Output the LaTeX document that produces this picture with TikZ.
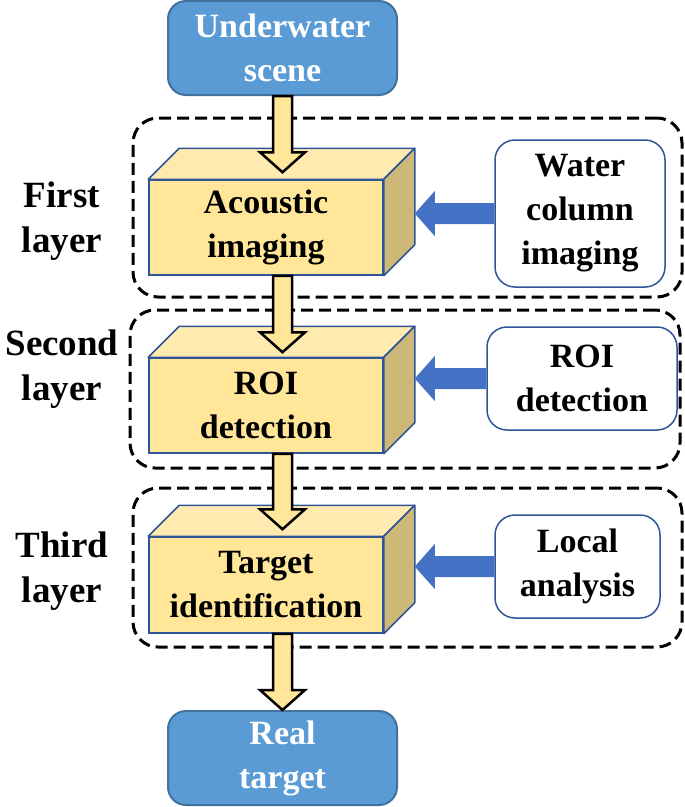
\documentclass[tikz,border=0pt]{standalone}
\usepackage{fontspec}
\setmainfont{Liberation Serif}
\usepackage{tikz}
\usetikzlibrary{positioning,calc,shapes}
\definecolor{flowBlue}{HTML}{5B9BD5}
\definecolor{flowBlueEdge}{HTML}{41719C}
\definecolor{cubeFront}{HTML}{FFE699}
\definecolor{cubeTopFill}{HTML}{FFEBB0}
\definecolor{cubeSideFill}{HTML}{CDB878}
\definecolor{cubeEdge}{HTML}{2F5597}
\definecolor{feedBlue}{HTML}{4472C4}
\tikzset{
    bigText/.style={font=\fontsize{34}{44}\selectfont\bfseries, align=center},
    endBox/.style={
        rectangle,
        draw=flowBlueEdge,
        line width=2pt,
        fill=flowBlue,
        rounded corners=18pt,
        minimum width=229pt,
        minimum height=94pt,
        text=white,
        bigText
    },
    cubeFrontBox/.style={
        rectangle,
        draw=cubeEdge,
        line width=1.5pt,
        fill=cubeFront,
        minimum width=234pt,
        minimum height=95pt,
        bigText
    },
    sideBox/.style={
        rectangle,
        draw=cubeEdge,
        line width=1.5pt,
        fill=white,
        rounded corners=20pt,
        bigText
    },
    layerFrame/.style={
        rectangle,
        draw=black,
        line width=3pt,
        dash pattern=on 12pt off 6pt,
        rounded corners=25pt
    },
    layerLabel/.style={font=\fontsize{37}{45}\selectfont\bfseries, align=center},
    % Faces and arrows
    cubeTop/.style={draw=cubeEdge, line width=1.5pt, fill=cubeTopFill, line join=round},
    cubeSide/.style={draw=cubeEdge, line width=1.5pt, fill=cubeSideFill, line join=round},
    yelArrow/.style={draw=black, line width=2.5pt, fill=cubeFront, line join=miter},
    blueArrow/.style={fill=feedBlue}
}
\newcommand{\cuboidFaces}[1]{%
  \filldraw[cubeTop] (#1.north west) -- ++(31,-31) -- ($(#1.north east)+(31,-31)$) -- (#1.north east) -- cycle;
  \filldraw[cubeSide] (#1.north east) -- ++(31,-31) -- ($(#1.south east)+(31,-31)$) -- (#1.south east) -- cycle;
}
\newcommand{\layerArrow}[2]{%
  \filldraw[yelArrow] ($(#1)+(-9.5,0)$) -- ($(#2)+(-9.5,-20)$) -- ($(#2)+(-22.5,-20)$) -- (#2)
    -- ($(#2)+(22.5,-20)$) -- ($(#2)+(9.5,-20)$) -- ($(#1)+(9.5,0)$) -- cycle;
}
\newcommand{\sideArrow}[2]{%
  \fill[blueArrow] ($(#1)+(0,-10.5)$) -- ($(#2)+(20,-10.5)$) -- ($(#2)+(20,-22.5)$) -- (#2)
    -- ($(#2)+(20,22.5)$) -- ($(#2)+(20,10.5)$) -- ($(#1)+(0,10.5)$) -- cycle;
}
\begin{document}
\begin{tikzpicture}[x=1pt, y=-1pt]
\useasboundingbox (0,0) rectangle (685,807);

% layer frames
\node[layerFrame, minimum width=549pt, minimum height=179pt] (frameA) at (407.5,207.5) {};
\node[layerFrame, minimum width=550pt, minimum height=158pt] (frameB) at (405,389) {};
\node[layerFrame, minimum width=549pt, minimum height=159pt] (frameC) at (407.5,567.5) {};

\node[layerLabel] (labA) at (62,221) {First\\layer};
\node[layerLabel] (labB) at (62,369) {Second\\layer};
\node[layerLabel] (labC) at (62,571) {Third\\layer};

\node[endBox] (scene) at (282.5,48) {Underwater\\scene};
\node[endBox] (real) at (282.5,758) {Real\\target};

\node[cubeFrontBox] (acoustic) at (266,227.5) {Acoustic\\imaging};
\cuboidFaces{acoustic}
\node[cubeFrontBox] (roiCube) at (266,405.5) {ROI\\detection};
\cuboidFaces{roiCube}
\node[cubeFrontBox, minimum height=96pt] (targetCube) at (266,585) {Target\\identification};
\cuboidFaces{targetCube}

\node[sideBox, minimum width=170pt, minimum height=147pt] (water) at (580,213.5) {Water\\column\\imaging};
\node[sideBox, minimum width=190pt, minimum height=103pt] (roiSide) at (582,378.5) {ROI\\detection};
\node[sideBox, minimum width=165pt, minimum height=103pt] (localSide) at (577.5,566.5) {Local\\analysis};

% flow arrows
\coordinate (tipA) at ($(scene.south |- acoustic.north)+(0,-7)$);
\coordinate (outA) at (scene.south |- acoustic.south);
\coordinate (tipB) at ($(scene.south |- roiCube.north)+(0,-5)$);
\coordinate (outB) at (scene.south |- roiCube.south);
\coordinate (tipC) at ($(scene.south |- targetCube.north)+(0,-7)$);
\coordinate (outC) at (scene.south |- targetCube.south);
\layerArrow{scene.south}{tipA}
\layerArrow{outA}{tipB}
\layerArrow{outB}{tipC}
\layerArrow{outC}{real.north}

\coordinate (backA) at ($(acoustic.east)+(31,0)$);
\coordinate (backB) at ($(roiCube.east)+(31,0)$);
\coordinate (backC) at ($(targetCube.east)+(31,0)$);
\coordinate (feedA) at (backA |- water.west);
\coordinate (feedB) at (backB |- roiSide.west);
\coordinate (feedC) at (backC |- localSide.west);
\sideArrow{water.west}{feedA}
\sideArrow{roiSide.west}{feedB}
\sideArrow{localSide.west}{feedC}
\end{tikzpicture}
\end{document}
